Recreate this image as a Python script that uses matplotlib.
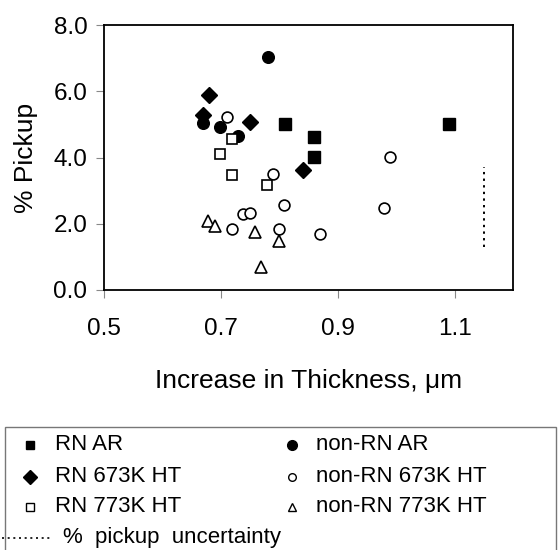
import matplotlib
matplotlib.use("Agg")
import matplotlib.pyplot as plt
from matplotlib.lines import Line2D
from matplotlib.patches import Rectangle

plt.rcParams['font.family'] = ['Liberation Sans', 'DejaVu Sans']

# Data
rn_ar_x = [0.809, 0.860, 0.860, 1.090]
rn_ar_y = [5.00, 4.63, 4.02, 5.01]

nonrn_ar_x = [0.780, 0.670, 0.699, 0.730]
nonrn_ar_y = [7.02, 5.03, 4.91, 4.65]

rn_673_x = [0.680, 0.670, 0.750, 0.840]
rn_673_y = [5.88, 5.29, 5.06, 3.63]

rn_773_x = [0.719, 0.699, 0.719, 0.779]
rn_773_y = [4.57, 4.12, 3.47, 3.18]

nonrn_673_x = [0.710, 0.789, 0.808, 0.738, 0.750, 0.719, 0.799, 0.869, 0.990, 0.979]
nonrn_673_y = [5.22, 3.51, 2.56, 2.30, 2.32, 1.83, 1.83, 1.69, 4.01, 2.47]

nonrn_773_x = [0.678, 0.690, 0.759, 0.799, 0.768]
nonrn_773_y = [2.09, 1.94, 1.74, 1.47, 0.68]

unc_x = [1.15, 1.15]
unc_y = [1.30, 3.70]

x_ticks = [0.5, 0.7, 0.9, 1.1]
x_ticklabels = ['0.5', '0.7', '0.9', '1.1']
y_ticks = [0.0, 2.0, 4.0, 6.0, 8.0]
y_ticklabels = ['0.0', '2.0', '4.0', '6.0', '8.0']

W, H = 558, 550
fig = plt.figure(figsize=(W / 100, H / 100), dpi=100)
ax = fig.add_axes([104 / W, 1 - 290 / H, (513 - 104) / W, (290 - 25) / H])

ms = 8.0
ax.plot(rn_ar_x, rn_ar_y, ls='none', marker='s', ms=ms, mfc='black', mec='black')
ax.plot(nonrn_ar_x, nonrn_ar_y, ls='none', marker='o', ms=ms + 0.4, mfc='black', mec='black')
ax.plot(rn_673_x, rn_673_y, ls='none', marker='D', ms=ms, mfc='black', mec='black')
ax.plot(rn_773_x, rn_773_y, ls='none', marker='s', ms=ms - 0.3, mfc='white', mec='black', mew=1.2)
ax.plot(nonrn_673_x, nonrn_673_y, ls='none', marker='o', ms=ms - 0.2, mfc='white', mec='black', mew=1.2)
ax.plot(nonrn_773_x, nonrn_773_y, ls='none', marker='^', ms=ms + 0.3, mfc='white', mec='black', mew=1.2)
ax.plot(unc_x, unc_y, ls=(0, (1.2, 2.2)), color='black', lw=1.4)

ax.set_xlim(0.5, 1.2)
ax.set_ylim(0, 8)
ax.set_xticks(x_ticks)
ax.set_xticklabels(x_ticklabels)
ax.set_yticks(y_ticks)
ax.set_yticklabels(y_ticklabels)
ax.tick_params(axis='both', direction='out', length=6, width=0.8, color='#888888',
               labelsize=17.5)
ax.tick_params(axis='x', pad=14)
ax.tick_params(axis='y', pad=6)
for s in ax.spines.values():
    s.set_linewidth(1.3)
    s.set_color('black')

ax.set_ylabel('% Pickup', fontsize=19, labelpad=11)
ax.set_xlabel('Increase in Thickness, \u03bcm', fontsize=19, labelpad=21)

# Legend box (manual)
rect = Rectangle((5 / W, 1 - 600 / H), (556 - 5) / W, (600 - 427) / H,
                 transform=fig.transFigure, fill=False, ec='#777777', lw=1.0,
                 clip_on=False)
fig.patches.append(rect)

legend_entries = [
    (30, 55, 445, 's', 'black', 6.2, 'RN AR'),
    (30, 55, 477, 'D', 'black', 6.8, 'RN 673K HT'),
    (30, 55, 507, 's', 'white', 5.8, 'RN 773K HT'),
    (292, 316, 445, 'o', 'black', 7.0, 'non-RN AR'),
    (292, 316, 477, 'o', 'white', 5.5, 'non-RN 673K HT'),
    (292, 316, 507, '^', 'white', 5.8, 'non-RN 773K HT'),
]
for mx, tx, y, mk, fc, msz, label in legend_entries:
    fig.add_artist(Line2D([mx / W], [1 - y / H], transform=fig.transFigure, ls='none',
                          marker=mk, ms=msz, mfc=fc, mec='black', mew=1.0))
    fig.text(tx / W, 1 - y / H, label, fontsize=16, va='center', ha='left')

fig.add_artist(Line2D([2 / W, 50 / W], [1 - 538 / H, 1 - 538 / H], transform=fig.transFigure,
                      ls=(0, (1.2, 2.2)), color='black', lw=1.2))
fig.text(63 / W, 1 - 538 / H, '%  pickup  uncertainty', fontsize=16, va='center', ha='left')

fig.savefig('out.png', dpi=100)
